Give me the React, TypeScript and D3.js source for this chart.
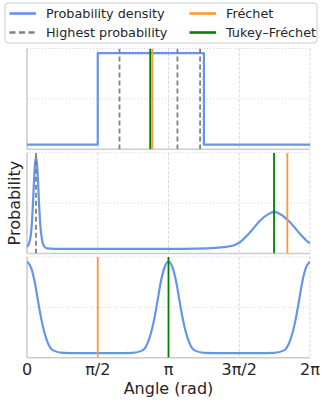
import React, { useEffect, useRef } from 'react';
import * as d3 from 'd3';

const PI = Math.PI;

// x axis ticks
const xTicks = [0, PI / 2, PI, 3 * PI / 2, 2 * PI];
const xTickLabels = ['0', 'π/2', 'π', '3π/2', '2π'];

// panel 1: step density
const density1: [number, number][] = [
  [0, 0.02], [1.5708, 0.02], [1.5708, 0.44], [3.927, 0.44], [3.927, 0.02], [6.2832, 0.02],
];
const highest1 = [2.054, 3.34, 3.843];
const frechet1 = 2.78;
const tukey1 = 2.735;

// panel 2: sharp peak + broad peak
const density2: [number, number][] = [
  [0, 0.02], [0.067, 0.1], [0.111, 0.3], [0.133, 0.5], [0.156, 0.75], [0.178, 0.93], [0.2, 1],
  [0.222, 0.93], [0.244, 0.75], [0.267, 0.5], [0.289, 0.3], [0.333, 0.1], [0.378, 0.03],
  [0.444, 0.006], [0.6, 0.001], [2.0, 0], [3.5, 0.001], [4.0, 0.006], [4.358, 0.02],
  [4.58, 0.038], [4.729, 0.073], [4.951, 0.18], [5.173, 0.308], [5.357, 0.38], [5.49, 0.405],
  [5.655, 0.37], [5.839, 0.29], [6.061, 0.165], [6.245, 0.073], [6.2832, 0.06],
];
const highest2 = [0.2];
const frechet2 = 5.78;
const tukey2 = 5.485;

// panel 3: peaks at 0, pi, 2pi
const density3: [number, number][] = [
  [0, 1], [0.1, 0.92], [0.178, 0.76], [0.244, 0.57], [0.322, 0.36], [0.433, 0.15], [0.577, 0.03],
  [0.8, 0.003], [1.2, 0], [1.94, 0],
  [2.342, 0.003], [2.565, 0.03], [2.709, 0.15], [2.82, 0.36], [2.898, 0.57], [2.964, 0.76],
  [3.042, 0.92], [3.1416, 1], [3.242, 0.92], [3.32, 0.76], [3.386, 0.57], [3.464, 0.36],
  [3.575, 0.15], [3.719, 0.03], [3.942, 0.003], [4.34, 0], [5.08, 0],
  [5.483, 0.003], [5.706, 0.03], [5.85, 0.15], [5.961, 0.36], [6.039, 0.57], [6.105, 0.76],
  [6.183, 0.92], [6.2832, 1],
];
const highest3: number[] = [];
const frechet3 = PI / 2;
const tukey3 = PI;

const BLUE = '#6495ed';
const ORANGE = '#ff9a2e';
const GREEN = '#008000';
const GREY = '#808080';
const FONT = 'DejaVu Sans, sans-serif';

export default function App() {
  const svgRef = useRef<SVGSVGElement>(null);

  useEffect(() => {
    if (!svgRef.current) return;
    const svg = d3.select(svgRef.current);
    svg.selectAll('*').remove();

    const width = 322;
    const height = 400;
    const left = 27;
    const right = 310;
    const top = 48.5;
    const panelH = 100.8;
    const gap = 3.4;

    const x = d3.scaleLinear().domain([0, 2 * PI]).range([left, right]);

    const panels = [
      { data: density1, highest: highest1, frechet: frechet1, tukey: tukey1, curve: d3.curveLinear },
      { data: density2, highest: highest2, frechet: frechet2, tukey: tukey2, curve: d3.curveMonotoneX },
      { data: density3, highest: highest3, frechet: frechet3, tukey: tukey3, curve: d3.curveMonotoneX },
    ];

    const defs = svg.append('defs');

    panels.forEach((p, i) => {
      const y0 = top + i * (panelH + gap);
      const y1 = y0 + panelH;
      const [mn, mx] = d3.extent(p.data, d => d[1]) as [number, number];
      const pad = (mx - mn) * 0.05;
      const y = d3.scaleLinear().domain([mn - pad, mx + pad]).range([y1, y0]);

      defs.append('clipPath').attr('id', `clip${i}`)
        .append('rect').attr('x', left).attr('y', y0).attr('width', right - left).attr('height', panelH);

      const g = svg.append('g');

      // horizontal grid (middle + top)
      const yd = y.domain();
      g.selectAll('.hgrid')
        .data([(yd[0] + yd[1]) / 2, yd[1]])
        .enter().append('line')
        .attr('x1', left).attr('x2', right)
        .attr('y1', d => y(d)).attr('y2', d => y(d))
        .attr('stroke', '#d8d8d8').attr('stroke-width', 1)
        .attr('stroke-dasharray', '1.2,1.8');

      // vertical grid
      g.selectAll('.vgrid')
        .data(xTicks.slice(1))
        .enter().append('line')
        .attr('x1', d => x(d)).attr('x2', d => x(d))
        .attr('y1', y0).attr('y2', y1)
        .attr('stroke', '#d8d8d8').attr('stroke-width', 1)
        .attr('stroke-dasharray', '3,1.6');

      // spines
      g.append('line').attr('x1', left).attr('x2', left).attr('y1', y0).attr('y2', y1)
        .attr('stroke', '#cccccc').attr('stroke-width', 1.6);
      g.append('line').attr('x1', left).attr('x2', right).attr('y1', y1).attr('y2', y1)
        .attr('stroke', '#cccccc').attr('stroke-width', 1.6);

      const inner = g.append('g').attr('clip-path', `url(#clip${i})`);

      const line = d3.line<[number, number]>()
        .x(d => x(d[0])).y(d => y(d[1])).curve(p.curve);
      inner.append('path').datum(p.data)
        .attr('d', line)
        .attr('fill', 'none').attr('stroke', BLUE).attr('stroke-width', 2.2)
        .attr('stroke-linejoin', 'round');

      inner.selectAll('.hp')
        .data(p.highest)
        .enter().append('line')
        .attr('x1', d => x(d)).attr('x2', d => x(d))
        .attr('y1', y0).attr('y2', y1)
        .attr('stroke', GREY).attr('stroke-width', 1.8)
        .attr('stroke-dasharray', '5,3');

      inner.append('line')
        .attr('x1', x(p.frechet)).attr('x2', x(p.frechet))
        .attr('y1', y0).attr('y2', y1)
        .attr('stroke', ORANGE).attr('stroke-width', 1.8);
      inner.append('line')
        .attr('x1', x(p.tukey)).attr('x2', x(p.tukey))
        .attr('y1', y0).attr('y2', y1)
        .attr('stroke', GREEN).attr('stroke-width', 1.8);
    });

    const bottom = top + 3 * panelH + 2 * gap;

    // x tick labels
    svg.selectAll('.xtick')
      .data(xTicks)
      .enter().append('text')
      .attr('x', d => x(d)).attr('y', bottom + 17)
      .attr('text-anchor', 'middle')
      .attr('font-family', FONT).attr('font-size', 16).attr('fill', '#262626')
      .text((d, i) => xTickLabels[i]);

    svg.append('text')
      .attr('x', (left + right) / 2).attr('y', bottom + 36)
      .attr('text-anchor', 'middle')
      .attr('font-family', FONT).attr('font-size', 16).attr('fill', '#262626')
      .text('Angle (rad)');

    svg.append('text')
      .attr('transform', `translate(20,${(top + bottom) / 2}) rotate(-90)`)
      .attr('text-anchor', 'middle')
      .attr('font-family', FONT).attr('font-size', 16).attr('fill', '#262626')
      .text('Probability');

    // legend
    const lg = svg.append('g');
    lg.append('rect')
      .attr('x', 5).attr('y', 3).attr('width', 312).attr('height', 40).attr('rx', 3)
      .attr('fill', 'white').attr('stroke', '#cccccc').attr('stroke-width', 1);

    const items = [
      { label: 'Probability density', color: BLUE, dash: null, col: 0, row: 0 },
      { label: 'Highest probability', color: GREY, dash: '6,3.5', col: 0, row: 1 },
      { label: 'Fréchet', color: ORANGE, dash: null, col: 1, row: 0 },
      { label: 'Tukey–Fréchet', color: GREEN, dash: null, col: 1, row: 1 },
    ];
    items.forEach(it => {
      const hx = it.col === 0 ? 9.5 : 189.5;
      const ty = 13.5 + it.row * 19;
      lg.append('line')
        .attr('x1', hx).attr('x2', hx + 26.5).attr('y1', ty).attr('y2', ty)
        .attr('stroke', it.color).attr('stroke-width', 2.6)
        .attr('stroke-dasharray', it.dash);
      lg.append('text')
        .attr('x', hx + 36.5).attr('y', ty)
        .attr('dy', '0.36em')
        .attr('font-family', FONT).attr('font-size', 12.8).attr('fill', '#262626')
        .text(it.label);
    });

    svg.attr('width', width).attr('height', height);
  }, []);

  return (
    <div style={{ position: 'absolute', left: 0, top: 0 }}>
      <svg ref={svgRef} width={322} height={400} style={{ display: 'block' }} />
    </div>
  );
}
